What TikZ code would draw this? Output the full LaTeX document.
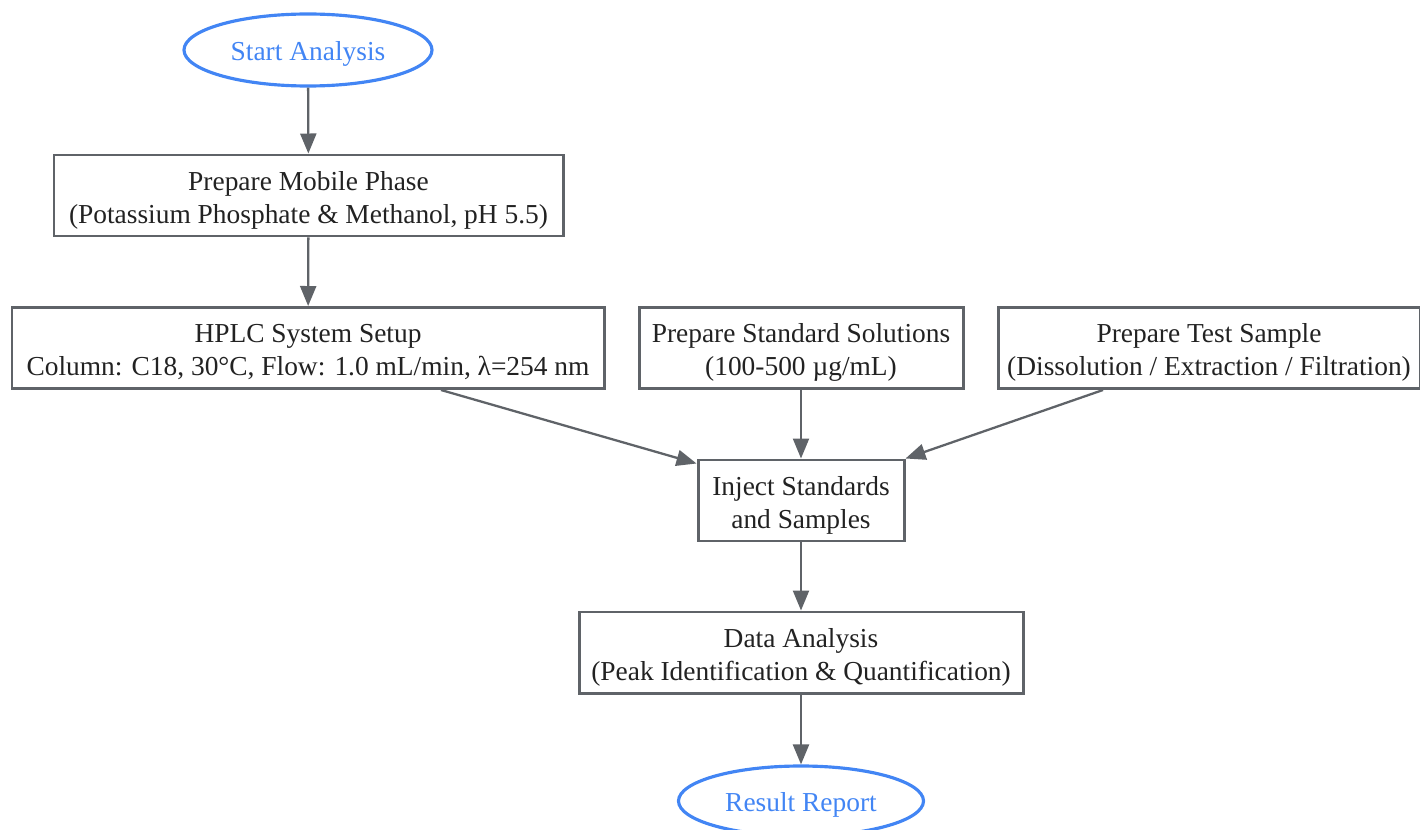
\documentclass[tikz,border=0pt]{standalone}
\usepackage{fontspec}
\setmainfont{Liberation Serif}
\usetikzlibrary{arrows.meta,shapes.geometric}
\definecolor{linegray}{HTML}{5F6368}
\definecolor{textdark}{HTML}{222222}
\definecolor{startblue}{HTML}{4285F4}
\begin{document}
\begin{tikzpicture}[
    stepbox/.style={draw=linegray, line width=1.7pt, fill=white, text=textdark,
      align=center, minimum height=1.62cm, inner sep=0pt,
      font=\fontsize{15.6}{18.8}\selectfont,
      text height=36.2pt, text depth=4.5pt},
    terminal/.style={ellipse, draw=startblue, line width=1.8pt, text=startblue,
      inner sep=0pt, font=\fontsize{15.6}{18.8}\selectfont,
      execute at begin node={\rule{0pt}{15pt}}},
    flow/.style={draw=linegray, line width=1.3pt,
      -{Triangle[length=0.4cm,width=0.32cm]}}
  ]

  \useasboundingbox (0,0) rectangle (28.4,-16.6);

  \node[terminal, minimum width=4.96cm, minimum height=1.44cm] (start) at (6.16,-1.0) {Start Analysis};
  \node[stepbox, minimum width=10.18cm] (mobile) at (6.17,-3.91)
    {Prepare Mobile Phase\\(Potassium Phosphate \& Methanol, pH 5.5)};
  \node[stepbox, minimum width=11.84cm] (hplc) at (6.16,-6.96)
    {HPLC System Setup\\Column: C18, 30°C, Flow: 1.0 mL/min, λ=254 nm};
  \node[stepbox, minimum width=6.48cm] (standard) at (16.02,-6.96)
    {Prepare Standard Solutions\\(100-500 µg/mL)};
  \node[stepbox, minimum width=8.44cm] (testsample) at (24.18,-6.96)
    {Prepare Test Sample\\(Dissolution / Extraction / Filtration)};
  \node[stepbox, minimum width=4.12cm] (inject) at (16.02,-10.01)
    {Inject Standards\\and Samples};
  \node[stepbox, minimum width=8.88cm] (dataan) at (16.02,-13.05)
    {Data Analysis\\(Peak Identification \& Quantification)};
  \node[terminal, minimum width=4.9cm, minimum height=1.4cm] (report) at (16.02,-16.02) {Result Report};

  \draw[flow] (start) -- (mobile);
  \draw[flow] (mobile) -- (hplc);
  \draw[flow] ([xshift=2.66cm]hplc.south) -- ([yshift=-0.1cm]inject.north west);
  \draw[flow] (standard) -- (inject);
  \draw[flow] ([xshift=-2.12cm]testsample.south) -- (inject.north east);
  \draw[flow] (inject) -- (dataan);
  \draw[flow] (dataan) -- (report);

\end{tikzpicture}
\end{document}
